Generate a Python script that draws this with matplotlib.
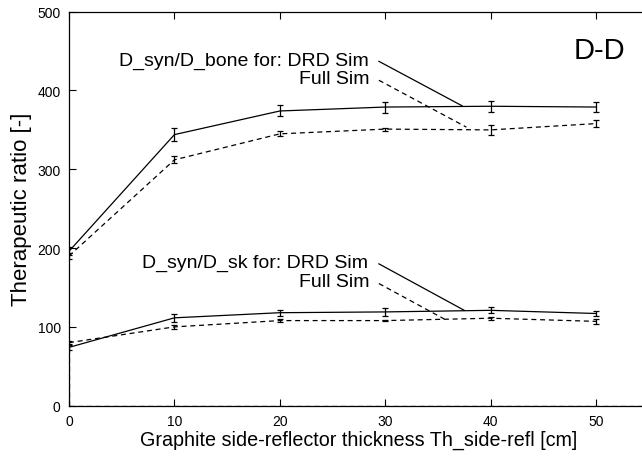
import numpy as np
import matplotlib
matplotlib.use("Agg")
import matplotlib.pyplot as plt

plt.rcParams['font.family'] = ['Liberation Sans', 'DejaVu Sans']

# side-reflector thickness [cm]
thickness = [0, 10, 20, 30, 40, 50]

# D_syn/D_bone
bone_drd = [196, 344, 374, 379, 380, 379]
bone_drd_err = [5, 8, 7, 7, 7, 6.5]
bone_full = [190, 312, 345, 351, 350, 358]
bone_full_err = [4, 4.5, 3, 2, 6, 4]

# D_syn/D_sk
sk_drd = [74, 111.5, 118, 119, 121, 117]
sk_drd_err = [3, 5, 4, 5, 4, 3]
sk_full = [80, 100, 108, 108, 111, 107]
sk_full_err = [2, 3, 2, 1, 2, 3]

fig = plt.figure(figsize=(6.42, 4.6), dpi=100)
ax = fig.add_axes([0.1075, 0.1159, 0.903, 0.8565])

dash = (0, (4, 3))
ebkw = dict(color='black', lw=0.9, capsize=2.5, elinewidth=0.9, capthick=0.9)

ax.errorbar(thickness, bone_drd, yerr=bone_drd_err, ls='-', **ebkw)
ax.errorbar(thickness, bone_full, yerr=bone_full_err, ls=dash, **ebkw)
ax.errorbar(thickness, sk_drd, yerr=sk_drd_err, ls='-', **ebkw)
ax.errorbar(thickness, sk_full, yerr=sk_full_err, ls=dash, **ebkw)

# baseline of the dashed series
ax.plot([0, 0], [0, sk_full[0]], color='black', lw=0.9, ls=dash)
ax.axhline(0, color='black', lw=0.9, ls=dash)

# key labels with leader lines
fs = 14
ax.text(28.4, 438, 'D_syn/D_bone for: DRD Sim', ha='right', va='center', fontsize=fs)
ax.text(28.5, 415, 'Full Sim', ha='right', va='center', fontsize=fs)
ax.plot([29.4, 37.3], [437, 380.5], color='black', lw=0.9)
ax.plot([29.4, 37.7], [413, 353.5], color='black', lw=0.9, ls=dash)

ax.text(28.4, 182, 'D_syn/D_sk for: DRD Sim', ha='right', va='center', fontsize=fs)
ax.text(28.5, 158, 'Full Sim', ha='right', va='center', fontsize=fs)
ax.plot([29.4, 37.5], [180, 121], color='black', lw=0.9)
ax.plot([29.4, 35.6], [155, 110], color='black', lw=0.9, ls=dash)

ax.text(50.3, 452, 'D-D', ha='center', va='center', fontsize=21)

ax.set_xlim(0, 55)
ax.set_ylim(0, 500)
ax.set_xticks([0, 10, 20, 30, 40, 50])
ax.set_yticks([0, 100, 200, 300, 400, 500])
ax.tick_params(direction='in', length=5, width=0.8, top=True, right=True,
               labelsize=10, pad=6)
for s in ax.spines.values():
    s.set_linewidth(0.9)

ax.set_xlabel('Graphite side-reflector thickness Th_side-refl [cm]', fontsize=14.2, labelpad=1)
ax.set_ylabel('Therapeutic ratio [-]', fontsize=16, labelpad=4)

fig.savefig('out.png', dpi=100)
